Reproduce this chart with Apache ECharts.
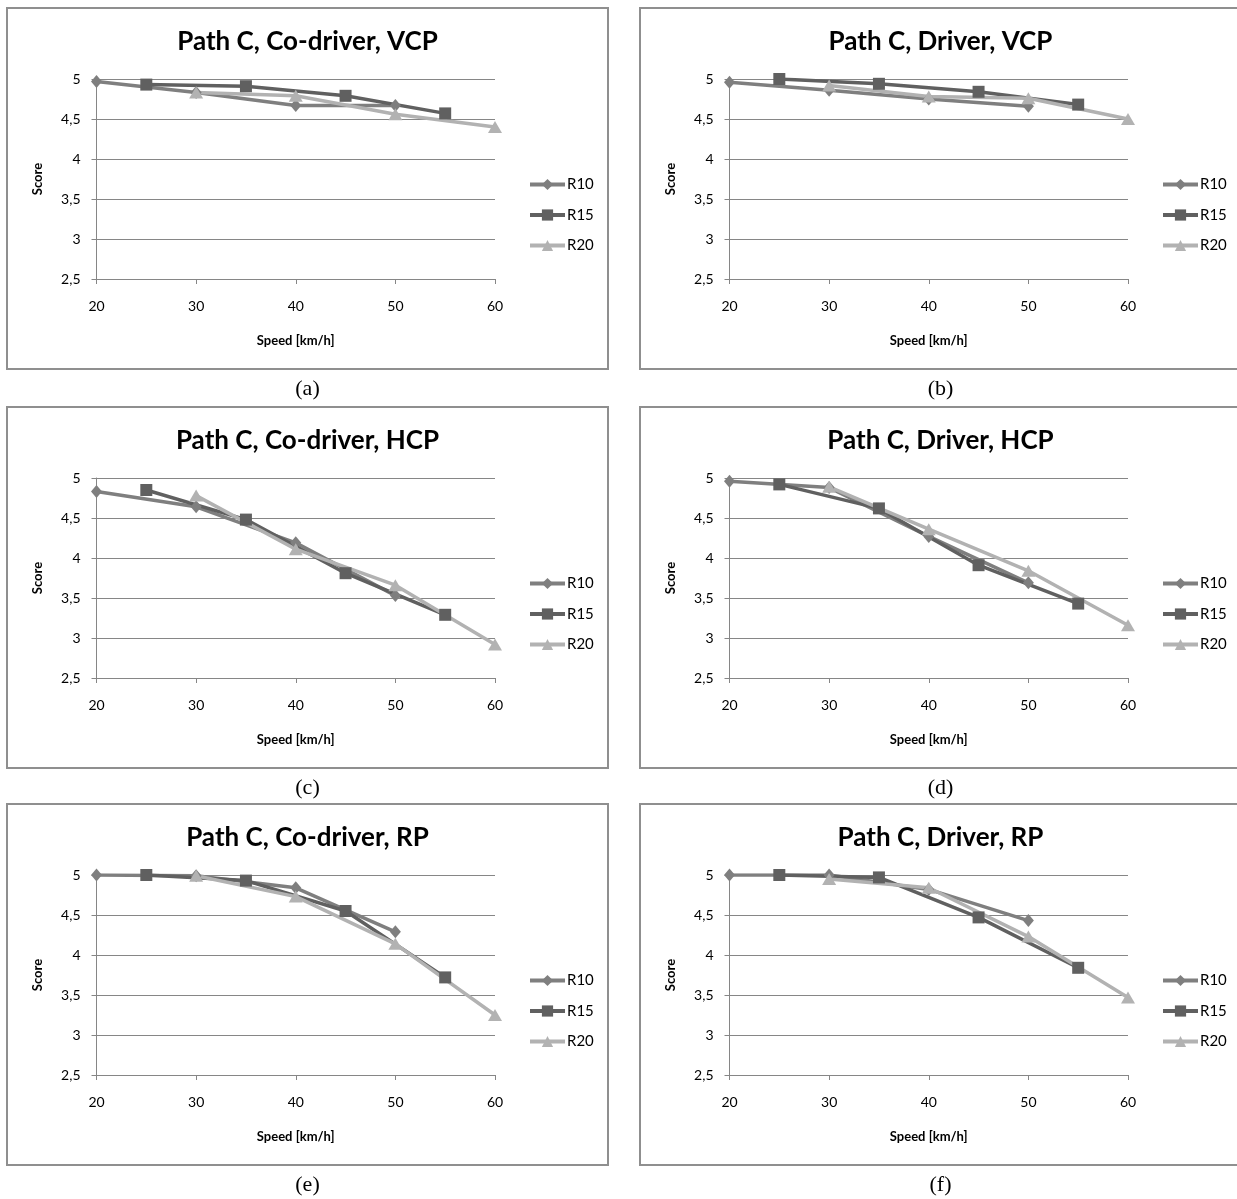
<!DOCTYPE html>
<html><head><meta charset="utf-8">
<script src="https://cdn.jsdelivr.net/npm/echarts@6/dist/echarts.min.js"></script>
<style>html,body{margin:0;padding:0;background:#fff}#c{width:1237px;height:1199px}</style>
</head><body><div id="c"></div>
<script>
const seriesNames = ['R10', 'R15', 'R20'];
const speedsR10 = [20, 30, 40, 50];
const speedsR15 = [25, 35, 45, 55];
const speedsR20 = [30, 40, 50, 60];
const xTicks = [20, 30, 40, 50, 60];
const yTicks = [2.5, 3, 3.5, 4, 4.5, 5];
const panelTitles = ['Path C, Co-driver, VCP', 'Path C, Driver, VCP', 'Path C, Co-driver, HCP', 'Path C, Driver, HCP', 'Path C, Co-driver, RP', 'Path C, Driver, RP'];
const panelCaptions = ['(a)', '(b)', '(c)', '(d)', '(e)', '(f)'];
const xAxisName = 'Speed [km/h]';
const yAxisName = 'Score';

// panel (a) Co-driver VCP
const coVcpR10 = [4.97, 4.83, 4.67, 4.67];
const coVcpR15 = [4.93, 4.91, 4.79, 4.57];
const coVcpR20 = [4.83, 4.79, 4.56, 4.40];
// panel (b) Driver VCP
const drVcpR10 = [4.96, 4.86, 4.75, 4.66];
const drVcpR15 = [5.00, 4.94, 4.84, 4.68];
const drVcpR20 = [4.92, 4.78, 4.76, 4.50];
// panel (c) Co-driver HCP
const coHcpR10 = [4.83, 4.64, 4.19, 3.53];
const coHcpR15 = [4.85, 4.48, 3.81, 3.29];
const coHcpR20 = [4.78, 4.11, 3.66, 2.92];
// panel (d) Driver HCP
const drHcpR10 = [4.96, 4.88, 4.27, 3.69];
const drHcpR15 = [4.92, 4.62, 3.91, 3.43];
const drHcpR20 = [4.89, 4.36, 3.84, 3.16];
// panel (e) Co-driver RP
const coRpR10 = [5.00, 4.99, 4.84, 4.29];
const coRpR15 = [5.00, 4.93, 4.55, 3.72];
const coRpR20 = [4.99, 4.73, 4.14, 3.25];
// panel (f) Driver RP
const drRpR10 = [5.00, 5.00, 4.82, 4.43];
const drRpR15 = [5.00, 4.97, 4.47, 3.84];
const drRpR20 = [4.95, 4.84, 4.23, 3.47];

const panelValues = [
  [coVcpR10, coVcpR15, coVcpR20],
  [drVcpR10, drVcpR15, drVcpR20],
  [coHcpR10, coHcpR15, coHcpR20],
  [drHcpR10, drHcpR15, drHcpR20],
  [coRpR10, coRpR15, coRpR20],
  [drRpR10, drRpR15, drRpR20]
];
const panelSpeeds = [speedsR10, speedsR15, speedsR20];

const FONT = 'Lato, "Open Sans", sans-serif';
const GRID_COLOR = '#868686';
const seriesColors = ['#7f7f7f', '#606060', '#b2b2b2'];
const seriesSymbols = ['diamond', 'rect', 'triangle'];
const seriesSymbolSizes = [[11, 13], 12, [14, 12]];

const boxXs = [7, 640];
const boxYs = [8, 407, 804];
const BOX_W = 601, BOX_H = 361;

const chart = echarts.init(document.getElementById('c'), null, {renderer: 'canvas'});
const grids = [], xAxes = [], yAxes = [], series = [], legends = [], graphics = [];

for (let i = 0; i < 6; i++) {
  const col = i % 2, row = Math.floor(i / 2);
  const bx = boxXs[col], by = boxYs[row];
  grids.push({left: bx + 89.5, top: by + 71, width: 398.5, height: 200, containLabel: false});
  xAxes.push({
    type: 'value', gridIndex: i, min: xTicks[0], max: xTicks[xTicks.length - 1], interval: 10,
    axisLine: {show: true, onZero: false, lineStyle: {color: GRID_COLOR, width: 1}},
    axisTick: {show: true, length: 5, lineStyle: {color: GRID_COLOR}},
    axisLabel: {color: '#000', fontFamily: FONT, fontSize: 14, margin: 20},
    splitLine: {show: false},
    name: xAxisName, nameLocation: 'middle', nameGap: 55,
    nameTextStyle: {color: '#000', fontFamily: FONT, fontWeight: 'bold', fontSize: 13}
  });
  yAxes.push({
    type: 'value', gridIndex: i, min: yTicks[0], max: yTicks[yTicks.length - 1], interval: 0.5,
    axisLine: {show: true, lineStyle: {color: GRID_COLOR, width: 1}},
    axisTick: {show: true, length: 5, lineStyle: {color: GRID_COLOR}},
    axisLabel: {color: '#000', fontFamily: FONT, fontSize: 14, margin: 16,
      formatter: v => String(v).replace('.', ',')},
    splitLine: {show: true, lineStyle: {color: GRID_COLOR, width: 1}},
    name: yAxisName, nameLocation: 'middle', nameRotate: 90, nameGap: 52,
    nameTextStyle: {color: '#000', fontFamily: FONT, fontWeight: 'bold', fontSize: 13}
  });
  for (let s = 0; s < 3; s++) {
    series.push({
      type: 'line', name: seriesNames[s], xAxisIndex: i, yAxisIndex: i,
      data: panelSpeeds[s].map((x, k) => [x, panelValues[i][s][k]]),
      symbol: seriesSymbols[s], symbolSize: seriesSymbolSizes[s], showSymbol: true,
      lineStyle: {color: seriesColors[s], width: 3.5},
      itemStyle: {color: seriesColors[s]},
      animation: false, silent: true
    });
  }
  legends.push({
    data: seriesNames, orient: 'vertical', left: bx + 521, top: by + 169, padding: 0,
    itemWidth: 35, itemHeight: 14, itemGap: 15.5,
    lineStyle: {width: 4},
    textStyle: {color: '#000', fontFamily: FONT, fontSize: 15, padding: [0, 0, 0, -3]},
    selectedMode: false
  });
  graphics.push({
    type: 'rect', shape: {x: bx, y: by, width: BOX_W, height: BOX_H},
    style: {fill: 'none', stroke: '#8f8f8f', lineWidth: 2}, z: -1
  });
  graphics.push({
    type: 'text', x: bx + BOX_W / 2, y: by + 34,
    style: {text: panelTitles[i], fill: '#000', font: 'bold 26px ' + FONT, textAlign: 'center', textVerticalAlign: 'middle'}
  });
  graphics.push({
    type: 'text', x: bx + BOX_W / 2, y: by + BOX_H + 20,
    style: {text: panelCaptions[i], fill: '#000', font: '22px "Liberation Serif", "Times New Roman", serif', textAlign: 'center', textVerticalAlign: 'middle'}
  });
}

chart.setOption({
  animation: false,
  backgroundColor: '#fff',
  grid: grids, xAxis: xAxes, yAxis: yAxes, series: series, legend: legends,
  graphic: graphics
});
</script></body></html>
